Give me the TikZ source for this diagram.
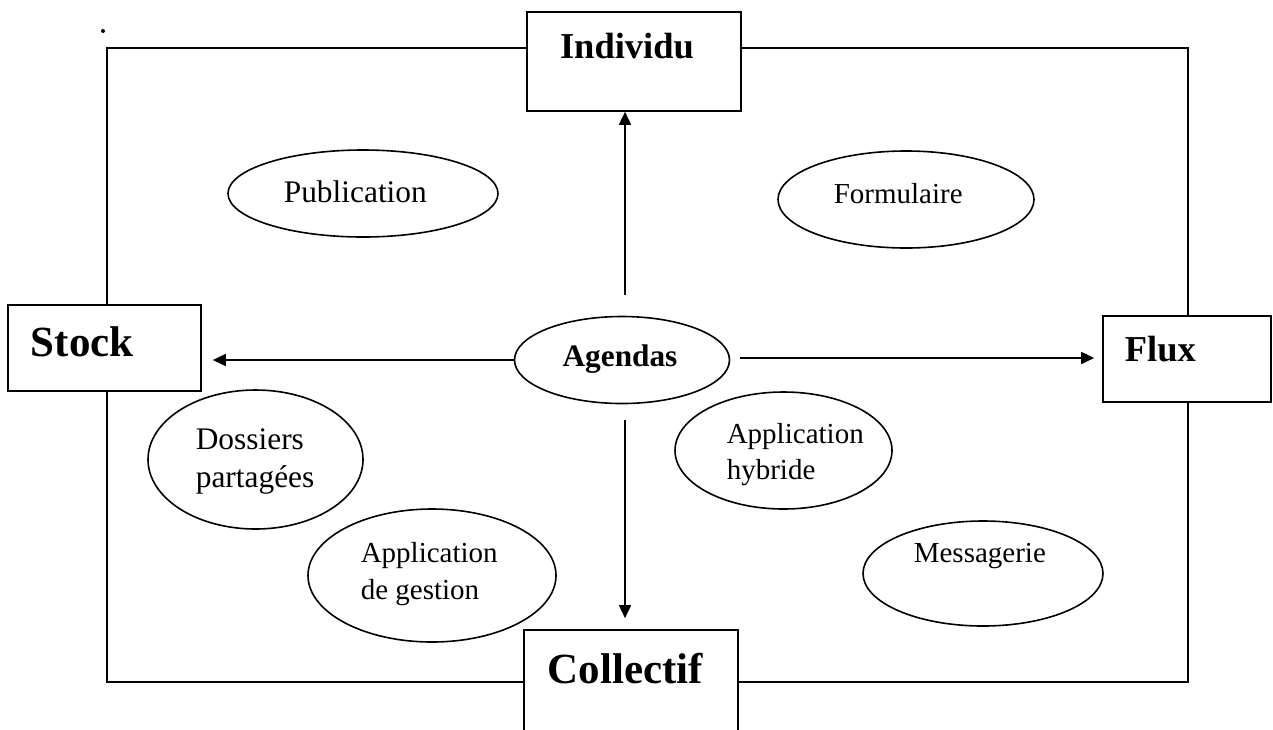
\documentclass[tikz,border=0pt]{standalone}
\usepackage{fontspec}
\setmainfont{Liberation Serif}
\usetikzlibrary{shapes.geometric,arrows.meta}
\begin{document}
\begin{tikzpicture}[x=1pt,y=-1pt,
  line width=1.6pt,
  frame/.style={draw, inner sep=0pt},
  box/.style={draw, fill=white, inner sep=0pt},
  oval/.style={ellipse, draw, fill=white, inner sep=0pt},
  lbl/.style={inner sep=0pt, anchor=base},
  lbll/.style={inner sep=0pt, anchor=base west},
  big/.style={font=\bfseries\fontsize{43}{50}\selectfont},
  mid/.style={font=\bfseries\fontsize{36.5}{44}\selectfont},
  bsm/.style={font=\bfseries\fontsize{31.3}{38}\selectfont},
  nrm/.style={font=\fontsize{29}{35}\selectfont},
  nrl/.style={font=\fontsize{31.4}{38}\selectfont},
  arr/.style={-{Triangle[length=13pt,width=12pt]}},
]
\useasboundingbox (0,0) rectangle (1273,729);
% dot
\fill (103,31) circle (2pt);
% outer frame
\node[frame, minimum width=1081pt, minimum height=634pt] (frame) at (647.5,365) {};
% boxes
\node[box, minimum width=214pt, minimum height=99pt] (ind) at (634,61.5) {};
\node[box, minimum width=193pt, minimum height=86pt] (st) at (104.5,348) {};
\node[box, minimum width=168pt, minimum height=86pt] (fx) at (1187,359) {};
\node[fill=white, inner sep=0pt, minimum width=212pt, minimum height=98pt] (col) at (631,680) {};
\draw (col.south west) -- (col.north west) -- (col.north east) -- (col.south east);
% ellipses
\node[oval, minimum width=215pt, minimum height=87pt] (ag) at (622,360) {};
\node[oval, minimum width=270pt, minimum height=87pt] (pub) at (363,193.5) {};
\node[oval, minimum width=256pt, minimum height=97pt] (form) at (906,199.5) {};
\node[oval, minimum width=215pt, minimum height=139pt] (dos) at (255.5,459.5) {};
\node[oval, minimum width=248pt, minimum height=133pt] (gest) at (432,575.5) {};
\node[oval, minimum width=217pt, minimum height=117pt] (hyb) at (783.5,450.5) {};
\node[oval, minimum width=240pt, minimum height=105pt] (mess) at (983,573.5) {};
% labels
\node[lbl, mid] (tind) at (627,58) {Individu};
\node[lbll, big] (tst) at (30,356) {Stock};
\node[lbll, mid] (tfx) at (1124,361) {Flux};
\node[lbll, big] (tcol) at (547,683) {Collectif};
\node[lbl, bsm] (tag) at (620,366) {Agendas};
\node[lbll, nrl] (tpub) at (283,202) {Publication};
\node[lbll, nrm] (tform) at (833,203) {Formulaire};
\node[lbll, nrl] (tdos1) at (195,449) {Dossiers};
\node[lbll, nrl] (tdos2) at (195,487) {partagées};
\node[lbll, nrm] (tgest1) at (360,562) {Application};
\node[lbll, nrm] (tgest2) at (360,599) {de gestion};
\node[lbll, nrm] (thyb1) at (726,443) {Application};
\node[lbll, nrm] (thyb2) at (726,479) {hybride};
\node[lbll, nrm] (tmess) at (913,562) {Messagerie};
% arrows
\coordinate (upstart) at (625,295);
\draw[arr] (upstart) -- (upstart |- ind.south);
\coordinate (downstart) at (625,420);
\draw[arr, shorten >=12pt] (downstart) -- (downstart |- col.north);
\draw[arr, shorten >=11pt] (ag.west) -- (ag.west -| st.east);
\coordinate (rstart) at (740,358);
\draw[arr, shorten >=8pt] (rstart) -- (rstart -| fx.west);
\end{tikzpicture}
\end{document}
